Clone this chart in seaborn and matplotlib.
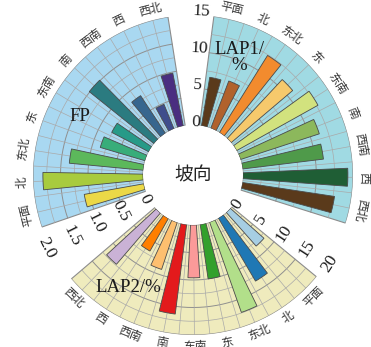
import numpy as np
import pandas as pd
import matplotlib
matplotlib.use("Agg")
import matplotlib.pyplot as plt
import seaborn as sns

# ---- data -------------------------------------------------------------
aspects = ["平面", "北", "东北", "东", "东南", "南", "西南", "西", "西北"]

fp_values = [1.10, 1.82, 1.35, 0.85, 0.76, 1.51, 0.82, 0.48, 0.98]
lap1_values = [6.7, 6.9, 12.4, 11.0, 12.7, 11.3, 11.1, 14.3, 12.7]
lap2_values = [8.2, 13.3, 17.4, 10.0, 9.6, 16.4, 9.0, 6.8, 12.3]

fp_ticks = [0, 0.5, 1.0, 1.5, 2.0]
fp_tick_labels = ["0", "0.5", "1.0", "1.5", "2.0"]
lap1_ticks = [0, 5, 10, 15]
lap1_tick_labels = ["0", "5", "10", "15"]
lap2_ticks = [0, 5, 10, 15, 20]
lap2_tick_labels = ["0", "5", "10", "15", "20"]

fp_colors = ["#ebd847", "#a8cb3e", "#5cb85b", "#38ad7a", "#279a88",
             "#2b7b80", "#37668e", "#3f4d8c", "#4a2e80"]
lap1_colors = ["#5a3a1b", "#b1622c", "#f28b2e", "#f6c96c", "#d2e27e",
               "#8cb85c", "#4f9a4a", "#1f5e35", "#5a3a1b"]
lap2_colors = sns.color_palette("Paired", 9)

# ---- style ------------------------------------------------------------
sns.set_style("white")
SERIF = ["Liberation Serif", "Noto Sans CJK SC"]
CJK = ["Noto Sans CJK SC", "DejaVu Sans"]
plt.rcParams["font.family"] = SERIF

W, H = 371, 347
CX, CY = 193, 175          # centre of the rose, in pixels from top-left
R_PX = 160                 # outer radius of the sectors
HOLE = 50 / R_PX           # inner empty disc
R_ORIGIN = -HOLE / (1 - HOLE)
SPAN = 100.0               # angular width of each sector (deg)
STEP = SPAN / len(aspects)


def r_at(px):
    """radial data coordinate for a distance in pixels from the centre"""
    return px / R_PX * (1 - R_ORIGIN) + R_ORIGIN


sectors = [
    dict(name="FP", values=fp_values, vmax=2.0, ticks=fp_ticks,
         tick_labels=fp_tick_labels, minor=0.25, colors=fp_colors,
         start=251.0, bg="#a9d8f1", tick_off=-7.5, flip=False,
         title="FP", title_pos=(-62.8, 127)),
    dict(name="LAP1", values=lap1_values, vmax=15.0, ticks=lap1_ticks,
         tick_labels=lap1_tick_labels, minor=2.5, colors=lap1_colors,
         start=7.5, bg="#a0dae3", tick_off=-4.5, flip=False,
         title="LAP1/\n%", title_pos=(21.5, 126)),
    dict(name="LAP2", values=lap2_values, vmax=20.0, ticks=lap2_ticks,
         tick_labels=lap2_tick_labels, minor=2.5, colors=lap2_colors,
         start=129.5, bg="#efebbd", tick_off=-6.5, flip=True,
         title="LAP2/%", title_pos=(209.9, 130)),
]

fig = plt.figure(figsize=(W / 100, H / 100), dpi=100)
ax = fig.add_axes([(CX - R_PX) / W, (H - CY - R_PX) / H,
                   2 * R_PX / W, 2 * R_PX / H], projection="polar")
ax.set_theta_zero_location("N")
ax.set_theta_direction(-1)

rows = []
for s in sectors:
    t0 = s["start"]
    # sector background
    ax.bar(np.deg2rad(t0 + SPAN / 2), 1.0, width=np.deg2rad(SPAN), bottom=0,
           color=s["bg"], edgecolor="#8c8c8c", linewidth=0.8, zorder=0)
    # concentric grid
    arc = np.deg2rad(np.linspace(t0, t0 + SPAN, 200))
    for v in np.arange(s["minor"], s["vmax"] - 1e-9, s["minor"]):
        major = any(abs(v - t) < 1e-9 for t in s["ticks"])
        ax.plot(arc, np.full_like(arc, v / s["vmax"]),
                color="#8f8f8f" if major else "#a9a9a9",
                lw=0.7 if major else 0.5, zorder=1)
    # radial grid at half-category spacing
    for k in range(1, 2 * len(aspects)):
        th = np.deg2rad(t0 + k * STEP / 2)
        ax.plot([th, th], [0, 1], color="#a9a9a9", lw=0.5, zorder=1)

    centres = t0 + STEP * (np.arange(len(aspects)) + 0.5)
    for a, v, c, t in zip(aspects, s["values"], s["colors"], centres):
        rows.append({"theta": np.deg2rad(t), "share": v / s["vmax"],
                     "key": f"{s['name']}-{a}", "color": c})

    # category labels round the rim
    for a, t in zip(aspects, centres):
        ang = 90 - t
        rot = ang + 90 if s["flip"] else ang - 90
        ax.text(np.deg2rad(t), r_at(171), a, family=CJK, fontsize=8.5,
                rotation=rot, rotation_mode="anchor",
                ha="center", va="center", color="#333333", zorder=4)

    # radial scale along the leading edge
    tt = t0 + s["tick_off"]
    ang = 90 - tt
    rot = ((ang - 90) + 90) % 180 - 90
    for v, lab in zip(s["ticks"], s["tick_labels"]):
        ax.text(np.deg2rad(tt), v / s["vmax"] + 0.03, lab, fontsize=12.5,
                rotation=rot, rotation_mode="anchor",
                ha="center", va="center", color="#1a1a1a", zorder=4)

    th_t, r_t = s["title_pos"]
    ax.text(np.deg2rad(th_t), r_at(r_t), s["title"], fontsize=13.5,
            ha="center", va="center", linespacing=0.95,
            color="#1a1a1a", zorder=4)

bars = pd.DataFrame(rows)
palette = dict(zip(bars["key"], bars["color"]))
sns.barplot(data=bars, x="theta", y="share", hue="key", palette=palette,
            native_scale=True, orient="x", dodge=False, width=0.6,
            saturation=1, errorbar=None, legend=False,
            edgecolor="#4a4a4a", linewidth=0.6, zorder=3, ax=ax)

ax.text(0, R_ORIGIN, "坡向", family=CJK, fontsize=13.5, ha="center",
        va="center", color="#222222", zorder=4)

ax.set_xlim(0, 2 * np.pi)
ax.set_ylim(0, 1)
ax.set_rorigin(R_ORIGIN)
ax.set_axis_off()

fig.savefig("out.png", dpi=100)
